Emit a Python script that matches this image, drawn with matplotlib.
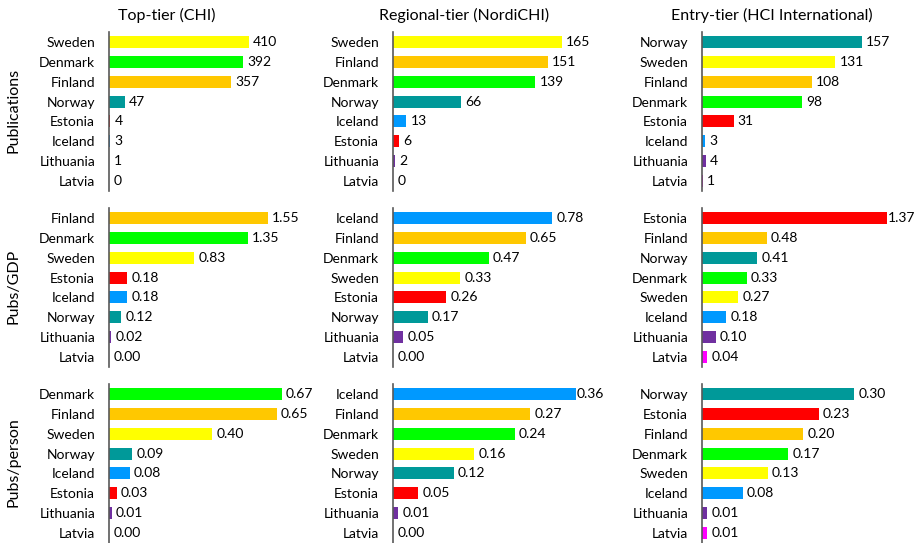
import matplotlib.pyplot as plt

plt.rcParams['font.family'] = ['Lato', 'DejaVu Sans']

col_titles = ['Top-tier (CHI)', 'Regional-tier (NordiCHI)', 'Entry-tier (HCI International)']
row_titles = ['Publications', 'Pubs/GDP', 'Pubs/person']

colors = {
    'Sweden': '#FFFF00', 'Denmark': '#00FF00', 'Finland': '#FFC800',
    'Norway': '#009999', 'Estonia': '#FF0000', 'Iceland': '#0099FF',
    'Lithuania': '#7030A0', 'Latvia': '#FF00FF',
}

# publications
pub_chi_countries = ['Sweden', 'Denmark', 'Finland', 'Norway', 'Estonia', 'Iceland', 'Lithuania', 'Latvia']
pub_chi_values = [410, 392, 357, 47, 4, 3, 1, 0]
pub_nordi_countries = ['Sweden', 'Finland', 'Denmark', 'Norway', 'Iceland', 'Estonia', 'Lithuania', 'Latvia']
pub_nordi_values = [165, 151, 139, 66, 13, 6, 2, 0]
pub_hcii_countries = ['Norway', 'Sweden', 'Finland', 'Denmark', 'Estonia', 'Iceland', 'Lithuania', 'Latvia']
pub_hcii_values = [157, 131, 108, 98, 31, 3, 4, 1]

# pubs per GDP
gdp_chi_countries = ['Finland', 'Denmark', 'Sweden', 'Estonia', 'Iceland', 'Norway', 'Lithuania', 'Latvia']
gdp_chi_values = [1.55, 1.35, 0.83, 0.18, 0.18, 0.12, 0.02, 0.00]
gdp_nordi_countries = ['Iceland', 'Finland', 'Denmark', 'Sweden', 'Estonia', 'Norway', 'Lithuania', 'Latvia']
gdp_nordi_values = [0.78, 0.65, 0.47, 0.33, 0.26, 0.17, 0.05, 0.00]
gdp_hcii_countries = ['Estonia', 'Finland', 'Norway', 'Denmark', 'Sweden', 'Iceland', 'Lithuania', 'Latvia']
gdp_hcii_values = [1.37, 0.48, 0.41, 0.33, 0.27, 0.18, 0.10, 0.04]

# pubs per person
per_chi_countries = ['Denmark', 'Finland', 'Sweden', 'Norway', 'Iceland', 'Estonia', 'Lithuania', 'Latvia']
per_chi_values = [0.67, 0.65, 0.40, 0.09, 0.08, 0.03, 0.01, 0.00]
per_nordi_countries = ['Iceland', 'Finland', 'Denmark', 'Sweden', 'Norway', 'Estonia', 'Lithuania', 'Latvia']
per_nordi_values = [0.36, 0.27, 0.24, 0.16, 0.12, 0.05, 0.01, 0.00]
per_hcii_countries = ['Norway', 'Estonia', 'Finland', 'Denmark', 'Sweden', 'Iceland', 'Lithuania', 'Latvia']
per_hcii_values = [0.30, 0.23, 0.20, 0.17, 0.13, 0.08, 0.01, 0.01]

panels = [
    [(pub_chi_countries, pub_chi_values), (pub_nordi_countries, pub_nordi_values), (pub_hcii_countries, pub_hcii_values)],
    [(gdp_chi_countries, gdp_chi_values), (gdp_nordi_countries, gdp_nordi_values), (gdp_hcii_countries, gdp_hcii_values)],
    [(per_chi_countries, per_chi_values), (per_nordi_countries, per_nordi_values), (per_hcii_countries, per_hcii_values)],
]
formats = ['{:.0f}', '{:.2f}', '{:.2f}']
# axis maxima per panel (each panel has its own scale)
xmax = [[586, 195.3, 196.3], [1.949, 0.980, 1.481], [0.775, 0.394, 0.3945]]

W, H = 916, 543
fig = plt.figure(figsize=(W / 100, H / 100), dpi=100)

col_left = [109, 393, 702]
row_top = [32, 208, 384]
ax_w, ax_h = 200, 159

for r in range(3):
    for c in range(3):
        countries, values = panels[r][c]
        ax = fig.add_axes([col_left[c] / W, 1 - (row_top[r] + ax_h) / H, ax_w / W, ax_h / H])
        ax.patch.set_visible(False)
        y = list(range(len(countries)))
        ax.barh(y, values, height=0.6, color=[colors[k] for k in countries])
        for yi, v in zip(y, values):
            # label hugs the bar when it would run off the edge
            off = 0.3 if v / xmax[r][c] > 0.9 else 3
            ax.annotate(formats[r].format(v), (v, yi), xytext=(off, 0), textcoords='offset points',
                        va='center', ha='left', fontsize=10, annotation_clip=False)
        ax.set_yticks(y)
        ax.set_yticklabels(countries, fontsize=10)
        ax.set_ylim(len(countries) - 0.5, -0.5)
        ax.set_xlim(0, xmax[r][c])
        ax.set_xticks([])
        ax.tick_params(axis='y', length=0, pad=10)
        for s in ['top', 'right', 'bottom']:
            ax.spines[s].set_visible(False)
        ax.spines['left'].set_color('#595959')
        ax.spines['left'].set_linewidth(1.2)

col_centers = [167, 464, 772]
for c in range(3):
    fig.text(col_centers[c] / W, 1 - 15 / H, col_titles[c], ha='center', va='center', fontsize=11.5)

row_centers = [110, 286, 462]
for r in range(3):
    fig.text(14 / W, 1 - row_centers[r] / H, row_titles[r], ha='center', va='center',
             rotation=90, fontsize=11.5)

fig.savefig('out.png', dpi=100)
